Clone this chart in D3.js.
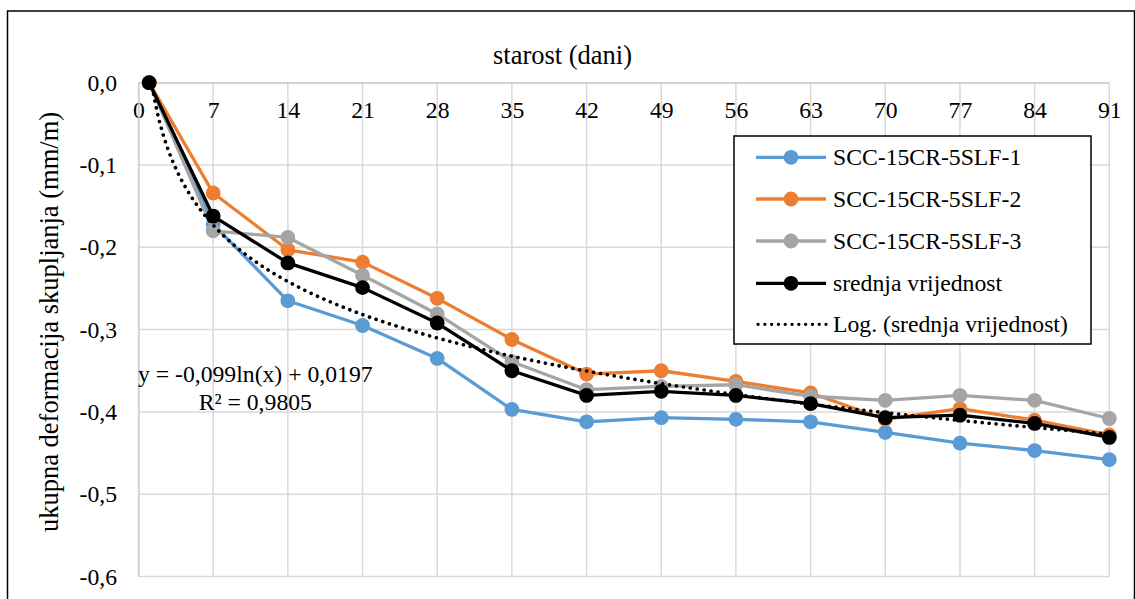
<!DOCTYPE html>
<html>
<head>
<meta charset="utf-8">
<script src="https://cdn.jsdelivr.net/npm/d3@7"></script>
<style>
  html, body { margin: 0; padding: 0; background: #fff; }
  svg { display: block; font-family: "Liberation Serif", "Times New Roman", serif; }
</style>
</head>
<body>
<svg id="chart" width="1135" height="599"></svg>
<script>
// ---- data ----
const days = [1, 7, 14, 21, 28, 35, 42, 49, 56, 63, 70, 77, 84, 91];
const series1 = [0, -0.172, -0.265, -0.295, -0.335, -0.397, -0.412, -0.407, -0.409, -0.412, -0.425, -0.438, -0.447, -0.458];
const series2 = [0, -0.134, -0.203, -0.218, -0.262, -0.312, -0.354, -0.350, -0.363, -0.377, -0.409, -0.396, -0.410, -0.428];
const series3 = [0, -0.180, -0.188, -0.234, -0.281, -0.339, -0.373, -0.369, -0.367, -0.381, -0.386, -0.380, -0.386, -0.408];
const meanSeries = [0, -0.162, -0.219, -0.249, -0.292, -0.350, -0.380, -0.375, -0.380, -0.390, -0.407, -0.404, -0.414, -0.431];
const seriesNames = ["SCC-15CR-5SLF-1", "SCC-15CR-5SLF-2", "SCC-15CR-5SLF-3", "srednja vrijednost"];
const trendName = "Log. (srednja vrijednost)";
const trendCoefA = -0.099;   // y = a ln(x) + b  (from chart label)
const trendCoefB = 0.0197;
const trendLabel = ["y = -0,099ln(x) + 0,0197", "R² = 0,9805"];
const xTicks = [0, 7, 14, 21, 28, 35, 42, 49, 56, 63, 70, 77, 84, 91];
const yTicks = [0, -0.1, -0.2, -0.3, -0.4, -0.5, -0.6];
const xTitle = "starost (dani)";
const yTitle = "ukupna deformacija skupljanja (mm/m)";

// ---- layout ----
const colors = ["#5b9bd5", "#ed7d31", "#a5a5a5", "#000000"];
const svg = d3.select("#chart");
const L = 138.5, R = 1109.3, T = 82.7, B = 576.5;
const x = d3.scaleLinear().domain([0, 91]).range([L, R]);
const y = d3.scaleLinear().domain([-0.6, 0]).range([B, T]);
const fmt = v => d3.format(".1f")(v).replace(".", ",").replace("−", "-");
const bodyFont = 23.7, titleFont = 26.5;

// outer frame
svg.append("rect").attr("x", 7.5).attr("y", 11).attr("width", 1127).attr("height", 620)
  .attr("fill", "none").attr("stroke", "#000").attr("stroke-width", 1.5);

// gridlines
const grid = svg.append("g");
grid.selectAll("line.h").data(yTicks).join("line")
  .attr("x1", L).attr("x2", R).attr("y1", d => y(d)).attr("y2", d => y(d))
  .attr("stroke", "#d9d9d9").attr("stroke-width", 1.5);
grid.selectAll("line.v").data(xTicks).join("line")
  .attr("y1", T).attr("y2", B).attr("x1", d => x(d)).attr("x2", d => x(d))
  .attr("stroke", "#d9d9d9").attr("stroke-width", 1.5);

// axes (x on top at y=0, y on left)
const xAxis = svg.append("g").attr("transform", `translate(0,${y(0)})`)
  .call(d3.axisBottom(x).tickValues(xTicks).tickSize(0).tickPadding(0).tickFormat(d => d));
xAxis.select(".domain").attr("stroke", "#d0d0d0").attr("stroke-width", 1.5);
xAxis.selectAll("text").attr("dy", null).attr("y", 35).attr("font-size", bodyFont)
  .attr("fill", "#000").attr("font-family", "Liberation Serif");

const yAxis = svg.append("g").attr("transform", `translate(${L},0)`)
  .call(d3.axisLeft(y).tickValues(yTicks).tickSize(0).tickPadding(21.5).tickFormat(fmt));
yAxis.select(".domain").attr("stroke", "#d0d0d0").attr("stroke-width", 1.5);
yAxis.selectAll("text").attr("font-size", bodyFont).attr("fill", "#000")
  .attr("font-family", "Liberation Serif");

// titles
svg.append("text").attr("x", 562.5).attr("y", 63.5).attr("text-anchor", "middle")
  .attr("font-size", titleFont).text(xTitle);
svg.append("text").attr("transform", "translate(57.5,322) rotate(-90)")
  .attr("text-anchor", "middle").attr("font-size", titleFont).text(yTitle);

// plot clip
svg.append("clipPath").attr("id", "clip").append("rect")
  .attr("x", L).attr("y", T).attr("width", R - L).attr("height", B - T);

const allSeries = [series1, series2, series3, meanSeries];
const line = d3.line().x((d, i) => x(days[i])).y(d => y(d));
const plot = svg.append("g");
allSeries.forEach((s, k) => {
  const g = plot.append("g");
  g.append("path").datum(s).attr("d", line).attr("fill", "none")
    .attr("stroke", colors[k]).attr("stroke-width", 3.3).attr("stroke-linejoin", "round");
  g.selectAll("circle").data(s).join("circle")
    .attr("cx", (d, i) => x(days[i])).attr("cy", d => y(d)).attr("r", 7.4)
    .attr("fill", colors[k]);
});

// log trendline of mean series (from the chart's equation)
const trendX = d3.range(1, 91.01, 0.25);
plot.append("path").datum(trendX)
  .attr("clip-path", "url(#clip)")
  .attr("d", d3.line().x(d => x(d)).y(d => y(trendCoefA * Math.log(d) + trendCoefB)))
  .attr("fill", "none").attr("stroke", "#000").attr("stroke-width", 3.6)
  .attr("stroke-linecap", "round").attr("stroke-dasharray", "0.1 6.9");

// trend equation label
const eq = svg.append("text").attr("text-anchor", "middle").attr("font-size", bodyFont);
eq.append("tspan").attr("x", 255.3).attr("y", 382).text(trendLabel[0]);
eq.append("tspan").attr("x", 255.3).attr("y", 410).text(trendLabel[1]);

// legend
const lg = svg.append("g");
lg.append("rect").attr("x", 734).attr("y", 136).attr("width", 357).attr("height", 208)
  .attr("fill", "#fff").attr("stroke", "#000").attr("stroke-width", 1.5);
const legendNames = seriesNames.concat([trendName]);
const rowY = [157.3, 199, 241, 283.3, 324.3];
legendNames.forEach((name, k) => {
  const yy = rowY[k];
  if (k < 4) {
    lg.append("line").attr("x1", 756).attr("x2", 826).attr("y1", yy).attr("y2", yy)
      .attr("stroke", colors[k]).attr("stroke-width", 3.3);
    lg.append("circle").attr("cx", 791).attr("cy", yy).attr("r", 7.4).attr("fill", colors[k]);
  } else {
    lg.append("line").attr("x1", 758).attr("x2", 826).attr("y1", yy).attr("y2", yy)
      .attr("stroke", "#000").attr("stroke-width", 3.3).attr("stroke-linecap", "round")
      .attr("stroke-dasharray", "0.1 6.7");
  }
  lg.append("text").attr("x", 833).attr("y", yy + 8).attr("font-size", bodyFont).text(name);
});
</script>
</body>
</html>
